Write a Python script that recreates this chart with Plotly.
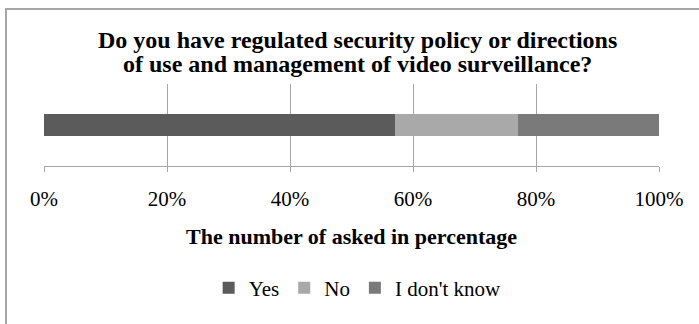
import plotly.graph_objects as go

categories = [""]
series_names = ["Yes", "No", "I don't know"]
yes_vals = [57]
no_vals = [20]
idk_vals = [23]
tick_vals = [0, 20, 40, 60, 80, 100]
tick_text = ["0%", "20%", "40%", "60%", "80%", "100%"]
title_lines = ["Do you have regulated security policy or directions",
               "of use and management of video surveillance?"]
colors = ["#5b5b5b", "#a9a9a9", "#7a7a7a"]

FONT = "Liberation Serif"
L, R, T, B = 44, 40, 84, 158
W, H = 699, 324
PW, PH = W - L - R, H - T - B


def px_x(x):
    return (x - L) / PW


def px_y(y):
    return (H - B - y) / PH


fig = go.Figure()
for name, vals, col in zip(series_names, [yes_vals, no_vals, idk_vals], colors):
    fig.add_trace(go.Bar(
        y=categories, x=vals, name=name, orientation="h",
        marker=dict(color=col, line=dict(width=0)), width=0.26,
    ))

annotations = []
for i, line in enumerate(title_lines):
    annotations.append(dict(
        text="<b>" + line + "</b>", xref="paper", yref="paper",
        x=px_x(W / 2 + 8), y=px_y(40 + 24 * i), xanchor="center", yanchor="middle",
        showarrow=False, font=dict(family=FONT, size=24, color="black"),
    ))

fig.update_layout(
    width=W, height=H,
    barmode="stack",
    plot_bgcolor="white", paper_bgcolor="white",
    margin=dict(l=L, r=R, t=T, b=B, autoexpand=False),
    font=dict(family=FONT, size=21, color="black"),
    annotations=annotations,
    xaxis=dict(
        range=[0, 100], tickvals=tick_vals, ticktext=tick_text,
        showgrid=True, gridcolor="#a6a6a6", gridwidth=1,
        showline=True, linecolor="#a6a6a6", linewidth=1,
        ticks="outside", ticklen=5, tickcolor="#a6a6a6",
        zeroline=False, fixedrange=True, ticklabelstandoff=9,
        tickfont=dict(family=FONT, size=21, color="black"),
        title=dict(text="<b>The number of asked in percentage</b>", standoff=18,
                   font=dict(family=FONT, size=22, color="black")),
    ),
    yaxis=dict(visible=False, range=[-0.5, 0.5], fixedrange=True),
    legend=dict(
        orientation="h", x=0.51, xanchor="center", y=px_y(288), yanchor="middle",
        font=dict(family=FONT, size=21, color="black"),
        itemwidth=30, traceorder="normal",
    ),
    showlegend=True,
    shapes=[
        dict(type="line", xref="paper", yref="paper", x0=px_x(5), x1=1.2,
             y0=px_y(9), y1=px_y(9), line=dict(color="#a6a6a6", width=2)),
        dict(type="line", xref="paper", yref="paper", x0=px_x(6), x1=px_x(6),
             y0=px_y(9), y1=-2.5, line=dict(color="#a6a6a6", width=2)),
    ],
)

fig.write_html("out.html", config={"displayModeBar": False},
               post_script="document.body.style.margin='0px';")
